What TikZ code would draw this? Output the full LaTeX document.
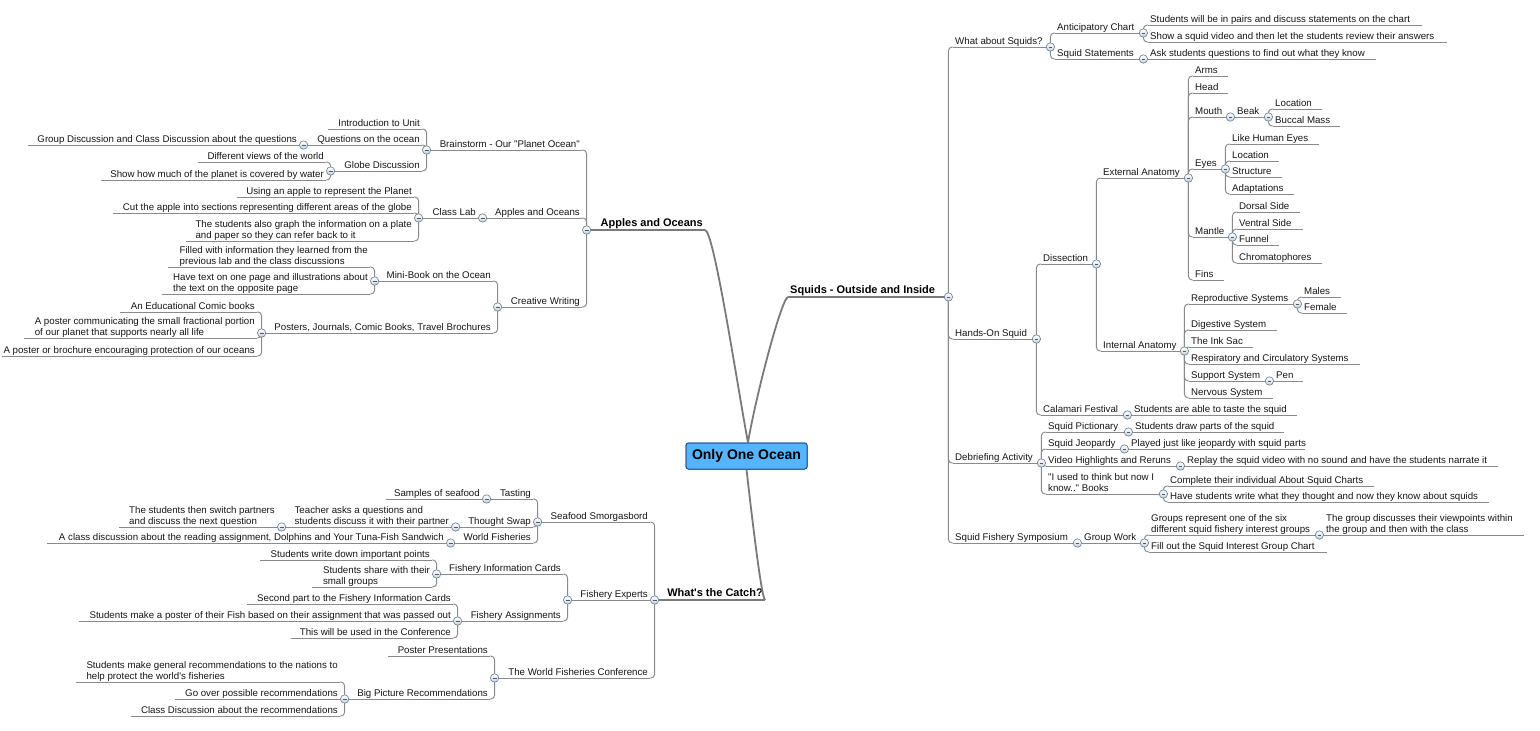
\documentclass[tikz,border=0pt]{standalone}
\usepackage{fontspec}
\setmainfont{Liberation Sans}[Ligatures=TeXOff]
\definecolor{lc}{RGB}{138,138,138}
\definecolor{mlc}{RGB}{122,122,122}
\definecolor{hfill}{RGB}{196,209,224}
\definecolor{hborder}{RGB}{112,130,150}
\definecolor{rootfill}{RGB}{86,180,252}
\definecolor{rootdraw}{RGB}{32,88,158}
\definecolor{txt}{RGB}{22,22,22}
\newcommand\fs{\fontsize{9.7}{10.8}\selectfont}
\newcommand\ml[2]{\begin{tabular}[b]{@{}l@{}}#1\\#2\end{tabular}}
\newcommand\RN[6][]{\node[rn,#1] (#2) at (#3,#5) {\makebox[\dimexpr#4pt-#3pt\relax][l]{\hspace{2pt}#6}};\draw[ulx] (#2.south west) -- (#2.south east);}
\newcommand\LN[6][]{\node[ln,#1] (#2) at (#4,#5) {\makebox[\dimexpr#4pt-#3pt\relax][r]{#6\hspace{2pt}}};\draw[ulx] (#2.south west) -- (#2.south east);}
\newcommand\CR[2]{\draw[conn] (#1.south east) |- (#2.south west);}
\newcommand\CL[2]{\draw[conn] (#1.south west) |- (#2.south east);}
\newcommand\SR[2]{\draw[conn] (#1.south east) -- (#2.south west);}
\newcommand\SL[2]{\draw[conn] (#1.south west) -- (#2.south east);}
\newcommand\HR[1]{\node[hbtn] (h-#1) at (#1.south east) {};}
\newcommand\HL[1]{\node[hbtn] (h-#1) at (#1.south west) {};}
\begin{document}
\begin{tikzpicture}[x=1pt,y=-1pt,
  nbase/.style={inner sep=0pt, font=\fs, text=txt, text depth=2.4pt, text height=7.2pt},
  rn/.style={nbase, anchor=south west},
  ln/.style={nbase, anchor=south east},
  mainnode/.style={font=\fontsize{11}{13}\selectfont\bfseries, text=black, text depth=3pt, text height=8.5pt},
  ulx/.style={draw=lc, line width=0.95pt},
  conn/.style={draw=lc, line width=0.95pt, rounded corners=3.8pt},
  mainline/.style={draw=mlc, line width=1.8pt},
  hbtn/.style={circle, inner sep=0pt, minimum size=8.4pt, draw=hborder, line width=0.65pt,
    top color=white, bottom color=hfill,
    path picture={\draw[line width=0.75pt, black!65] ([xshift=-1.9pt]path picture bounding box.center) -- ([xshift=1.9pt]path picture bounding box.center);}},
  rootbox/.style={draw=rootdraw, fill=rootfill, line width=1pt, rounded corners=2.5pt,
    minimum width=121pt, minimum height=26pt, inner sep=0pt,
    font=\fontsize{14}{16}\selectfont\bfseries, text=black}
]
\fill[white] (0,0) rectangle (1540,731);
\useasboundingbox (0,0) rectangle (1540,731);

% ---------------- right: Squids ----------------
\RN[mainnode]{s}{788}{948}{297}{Squids - Outside and Inside}
\RN{s1}{953}{1050}{47}{What about Squids?}
\RN{s1a}{1055}{1143}{33}{Anticipatory Chart}
\RN{s1a1}{1148}{1422}{25}{Students will be in pairs and discuss statements on the chart}
\RN{s1a2}{1148}{1447}{42}{Show a squid video and then let the students review their answers}
\RN{s1b}{1055}{1143}{59}{Squid Statements}
\RN{s1b1}{1148}{1376}{59}{Ask students questions to find out what they know}
\RN{s2}{953}{1036}{339}{Hands-On Squid}
\RN{d}{1041}{1096}{264}{Dissection}
\RN{ext}{1101}{1188}{178}{External Anatomy}
\RN{arms}{1193}{1228}{76}{Arms}
\RN{head}{1193}{1228}{93}{Head}
\RN{mouth}{1193}{1230}{117}{Mouth}
\RN{beak}{1235}{1268}{117}{Beak}
\RN{bloc}{1273}{1322}{109}{Location}
\RN{bucc}{1273}{1340}{126}{Buccal Mass}
\RN{eyes}{1193}{1225}{169}{Eyes}
\RN{ehum}{1230}{1319}{144}{Like Human Eyes}
\RN{eloc}{1230}{1279}{161}{Location}
\RN{estr}{1230}{1282}{177}{Structure}
\RN{eada}{1230}{1294}{194}{Adaptations}
\RN{mant}{1193}{1232}{237}{Mantle}
\RN{mdor}{1237}{1300}{212}{Dorsal Side}
\RN{mven}{1237}{1303}{229}{Ventral Side}
\RN{mfun}{1237}{1279}{245}{Funnel}
\RN{mchr}{1237}{1322}{263}{Chromatophores}
\RN{fins}{1193}{1224}{280}{Fins}
\RN{int}{1101}{1184}{351}{Internal Anatomy}
\RN{rep}{1189}{1297}{304}{Reproductive Systems}
\RN{males}{1302}{1341}{297}{Males}
\RN{female}{1302}{1347}{313}{Female}
\RN{dig}{1189}{1277}{330}{Digestive System}
\RN{ink}{1189}{1253}{347}{The Ink Sac}
\RN{resp}{1189}{1360}{364}{Respiratory and Circulatory Systems}
\RN{sup}{1189}{1269}{381}{Support System}
\RN{pen}{1274}{1303}{381}{Pen}
\RN{nerv}{1189}{1273}{398}{Nervous System}
\RN{cal}{1041}{1127}{415}{Calamari Festival}
\RN{cal1}{1132}{1297}{415}{Students are able to taste the squid}
\RN{s3}{953}{1041}{463}{Debriefing Activity}
\RN{pic}{1046}{1128}{432}{Squid Pictionary}
\RN{pic1}{1133}{1284}{432}{Students draw parts of the squid}
\RN{jeo}{1046}{1124}{449}{Squid Jeopardy}
\RN{jeo1}{1129}{1305}{449}{Played just like jeopardy with squid parts}
\RN{vid}{1046}{1180}{466}{Video Highlights and Reruns}
\RN{vid1}{1185}{1498}{466}{Replay the squid video with no sound and have the students narrate it}
\RN{used}{1046}{1163}{494}{\ml{"I used to think but now I}{know.." Books}}
\RN{used1}{1168}{1374}{486}{Complete their individual About Squid Charts}
\RN{used2}{1168}{1489}{502}{Have students write what they thought and now they know about squids}
\RN{s4}{953}{1077}{543}{Squid Fishery Symposium}
\RN{gw}{1082}{1144}{543}{Group Work}
\RN{grp}{1149}{1319}{535}{\ml{Groups represent one of the six}{different squid fishery interest groups}}
\RN{grp1}{1324}{1524}{535}{\ml{The group discusses their viewpoints within}{the group and then with the class}}
\RN{fill}{1149}{1327}{552}{Fill out the Squid Interest Group Chart}

\CR{s}{s1}\CR{s}{s2}\CR{s}{s3}\CR{s}{s4}
\CR{s1}{s1a}\CR{s1}{s1b}
\CR{s1a}{s1a1}\CR{s1a}{s1a2}
\SR{s1b}{s1b1}
\CR{s2}{d}\CR{s2}{cal}
\CR{d}{ext}\CR{d}{int}
\CR{ext}{arms}\CR{ext}{head}\CR{ext}{mouth}\CR{ext}{eyes}\CR{ext}{mant}\CR{ext}{fins}
\SR{mouth}{beak}
\CR{beak}{bloc}\CR{beak}{bucc}
\CR{eyes}{ehum}\CR{eyes}{eloc}\CR{eyes}{estr}\CR{eyes}{eada}
\CR{mant}{mdor}\CR{mant}{mven}\CR{mant}{mfun}\CR{mant}{mchr}
\CR{int}{rep}\CR{int}{dig}\CR{int}{ink}\CR{int}{resp}\CR{int}{sup}\CR{int}{nerv}
\CR{rep}{males}\CR{rep}{female}
\SR{sup}{pen}
\SR{cal}{cal1}
\CR{s3}{pic}\CR{s3}{jeo}\CR{s3}{vid}\CR{s3}{used}
\SR{pic}{pic1}\SR{jeo}{jeo1}\SR{vid}{vid1}
\CR{used}{used1}\CR{used}{used2}
\SR{s4}{gw}
\CR{gw}{grp}\CR{gw}{fill}
\SR{grp}{grp1}

% ---------------- left: Apples and Oceans ----------------
\LN[mainnode]{a}{587}{705}{230}{Apples and Oceans}
\LN{b}{427}{582}{150}{Brainstorm - Our "Planet Ocean"}
\LN{b1}{328}{422}{129}{Introduction to Unit}
\LN{b2}{304}{422}{145}{Questions on the ocean}
\LN{b2a}{28}{299}{145}{Group Discussion and Class Discussion about the questions}
\LN{b3}{331}{422}{171}{Globe Discussion}
\LN{b3a}{198}{326}{162}{Different views of the world}
\LN{b3b}{101}{326}{180}{Show how much of the planet is covered by water}
\LN{ao}{483}{582}{218}{Apples and Oceans}
\LN{cl}{419}{478}{218}{Class Lab}
\LN{cl1}{237}{414}{197}{Using an apple to represent the Planet}
\LN{cl2}{113}{414}{213}{Cut the apple into sections representing different areas of the globe}
\LN{cl3}{186}{414}{241}{\ml{The students also graph the information on a plate}{and paper so they can refer back to it}}
\LN{cw}{498}{582}{307}{Creative Writing}
\LN{mb}{375}{493}{281}{Mini-Book on the Ocean}
\LN{mb1}{168}{370}{267}{\ml{Filled with information they learned from the}{previous lab and the class discussions}}
\LN{mb2}{162}{370}{294}{\ml{Have text on one page and illustrations about}{the text on the opposite page}}
\LN{po}{262}{493}{333}{Posters, Journals, Comic Books, Travel Brochures}
\LN{po1}{120}{257}{312}{An Educational Comic books}
\LN{po2}{24}{257}{338}{\ml{A poster communicating the small fractional portion}{of our planet that supports nearly all life}}
\LN{po3}{2}{257}{356}{A poster or brochure encouraging protection of our oceans}

\CL{a}{b}\CL{a}{ao}\CL{a}{cw}
\CL{b}{b1}\CL{b}{b2}\CL{b}{b3}
\SL{b2}{b2a}
\CL{b3}{b3a}\CL{b3}{b3b}
\SL{ao}{cl}
\CL{cl}{cl1}\CL{cl}{cl2}\CL{cl}{cl3}
\CL{cw}{mb}\CL{cw}{po}
\CL{mb}{mb1}\CL{mb}{mb2}
\CL{po}{po1}\CL{po}{po2}\CL{po}{po3}

% ---------------- left: What's the Catch? ----------------
\LN[mainnode]{c}{655}{765}{600}{What's the Catch?}
\LN{sf}{538}{650}{522}{Seafood Smorgasbord}
\LN{ta}{487}{533}{499}{Tasting}
\LN{ta1}{386}{482}{499}{Samples of seafood}
\LN{ts}{456}{533}{527}{Thought Swap}
\LN{ts1}{282}{451}{527}{\ml{Teacher asks a questions and}{students discuss it with their partner}}
\LN{ts2}{119}{277}{527}{\ml{The students then switch partners}{and discuss the next question}}
\LN{wf}{451}{533}{543}{World Fisheries}
\LN{wf1}{47}{446}{543}{A class discussion about the reading assignment, Dolphins and Your Tuna-Fish Sandwich}
\LN{fe}{568}{650}{600}{Fishery Experts}
\LN{fic}{437}{563}{574}{Fishery Information Cards}
\LN{fic1}{260}{432}{560}{Students write down important points}
\LN{fic2}{312}{432}{587}{\ml{Students share with their}{small groups}}
\LN{fa}{458}{563}{621}{Fishery Assignments}
\LN{fa1}{247}{453}{604}{Second part to the Fishery Information Cards}
\LN{fa2}{79}{453}{621}{Students make a poster of their Fish based on their assignment that was passed out}
\LN{fa3}{291}{453}{638}{This will be used in the Conference}
\LN{wfc}{495}{650}{678}{The World Fisheries Conference}
\LN{pp}{388}{490}{656}{Poster Presentations}
\LN{bp}{345}{490}{699}{Big Picture Recommendations}
\LN{bp1}{76}{340}{682}{\ml{Students make general recommendations to the nations to}{help protect the world's fisheries}}
\LN{bp2}{175}{340}{699}{Go over possible recommendations}
\LN{bp3}{131}{340}{716}{Class Discussion about the recommendations}

\CL{c}{sf}\SL{c}{fe}\CL{c}{wfc}
\CL{sf}{ta}\CL{sf}{ts}\CL{sf}{wf}
\SL{ta}{ta1}\SL{ts}{ts1}\SL{ts1}{ts2}\SL{wf}{wf1}
\CL{fe}{fic}\CL{fe}{fa}
\CL{fic}{fic1}\CL{fic}{fic2}
\CL{fa}{fa1}\SL{fa}{fa2}\CL{fa}{fa3}
\CL{wfc}{pp}\CL{wfc}{bp}
\CL{bp}{bp1}\SL{bp}{bp2}\CL{bp}{bp3}

% ---------------- centre and main branches ----------------
\node[rootbox] (root) at (746.5,456) {Only One Ocean};
\draw[mainline] (a.south west) -- (a.south east);
\draw[mainline] (s.south west) -- (s.south east);
\draw[mainline] (c.south west) -- (c.south east);
\draw[mainline] (a.south east) .. controls (714,230) and (738,390) .. ([xshift=1.5pt]root.north);
\draw[mainline] (s.south west) .. controls (781,299) and (755,400) .. ([xshift=1.5pt]root.north);
\draw[mainline] (c.south east) .. controls (761,597) and (750,500) .. (root.south);
\node[rootbox] at (root.center) {Only One Ocean};

% ---------------- handles ----------------
\HR{s}\HR{s1}\HR{s1a}\HR{s1b}\HR{s2}\HR{d}\HR{ext}\HR{mouth}\HR{beak}\HR{eyes}\HR{mant}
\HR{int}\HR{rep}\HR{sup}\HR{cal}\HR{s3}\HR{pic}\HR{jeo}\HR{vid}\HR{used}\HR{s4}\HR{gw}\HR{grp}
\HL{a}\HL{b}\HL{b2}\HL{b3}\HL{ao}\HL{cl}\HL{cw}\HL{mb}\HL{po}
\HL{c}\HL{sf}\HL{ta}\HL{ts}\HL{ts1}\HL{wf}\HL{fe}\HL{fic}\HL{fa}\HL{wfc}\HL{bp}
\end{tikzpicture}
\end{document}
